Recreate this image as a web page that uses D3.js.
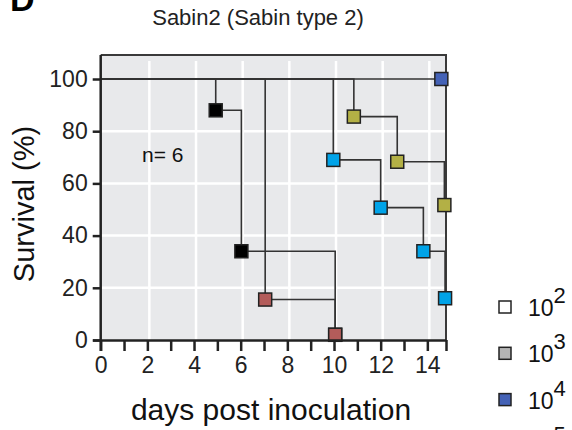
<!DOCTYPE html>
<html>
<head>
<meta charset="utf-8">
<script src="https://cdn.jsdelivr.net/npm/d3@7"></script>
<style>
  body { margin: 0; background: #fff; }
  svg { display: block; font-family: Arial, "Liberation Sans", sans-serif; }
</style>
</head>
<body>
<svg id="chart"></svg>
<script>
// survival steps: [day, survival %] after each drop
const blackSteps = [[4.93, 88], [6.03, 34], [10.05, 2]]
const brownSteps = [[7.05, 15.5], [10.05, 2]]
const cyanSteps  = [[9.97, 69], [12.0, 50.7], [13.83, 34], [14.76, 16]]
const oliveSteps = [[10.85, 85.6], [12.71, 68.3], [14.73, 51.7]]
const blueSteps  = [[14.6, 100]]

const seriesColors = ["#000000", "#b35c5a", "#00a3e8", "#b3b045", "#4462b6"]
const allSteps = [blackSteps, brownSteps, cyanSteps, oliveSteps, blueSteps]

const xTicks = [0, 1, 2, 3, 4, 5, 6, 7, 8, 9, 10, 11, 12, 13, 14, 14.8]
const xLabels = [0, 2, 4, 6, 8, 10, 12, 14]
const yTicks = [0, 20, 40, 60, 80, 100]
const gridX = [2, 4, 6, 8, 10, 12, 14]
const gridY = [20, 40, 60, 80]

const legendExp = ["2", "3", "4", "5"]
const legendColors = ["#ffffff", "#b5b5b5", "#4462b6", "#b35c5a"]

const W = 572, H = 430
const svg = d3.select("#chart").attr("width", W).attr("height", H)

const x = d3.scaleLinear().domain([0, 14.8]).range([100.7, 446])
const y = d3.scaleLinear().domain([0, 100]).range([340, 79])
const panelTop = 55

// panel background
svg.append("rect")
  .attr("x", x(0)).attr("y", panelTop)
  .attr("width", x(14.8) - x(0)).attr("height", y(0) - panelTop)
  .attr("fill", "#e8e9eb")

// white grid
svg.append("g").selectAll("line").data(gridX).enter().append("line")
  .attr("x1", d => x(d) + 2).attr("x2", d => x(d) + 2)
  .attr("y1", panelTop + 6).attr("y2", y(0))
  .attr("stroke", "#fff").attr("stroke-width", 2.5)
svg.append("g").selectAll("line").data(gridY).enter().append("line")
  .attr("x1", x(0)).attr("x2", x(14.8))
  .attr("y1", d => y(d)).attr("y2", d => y(d))
  .attr("stroke", "#fff").attr("stroke-width", 2.5)

// top + right border
svg.append("path")
  .attr("d", `M${x(0)},${panelTop}H${x(14.8)}V${y(0)}`)
  .attr("fill", "none").attr("stroke", "#3a3a3a").attr("stroke-width", 2)

// step curves
const stepPath = steps => {
  let p = `M${x(0)},${y(100)}`
  steps.forEach(s => { p += `H${x(s[0])}V${y(s[1])}` })
  return p
}
allSteps.forEach((steps, i) => {
  svg.append("path")
    .attr("d", stepPath(steps))
    .attr("fill", "none").attr("stroke", "#333").attr("stroke-width", 1.6)
})
allSteps.forEach((steps, i) => {
  svg.append("g").selectAll("rect").data(steps).enter().append("rect")
    .attr("x", d => x(d[0]) - 6.5).attr("y", d => y(d[1]) - 6.5)
    .attr("width", 13).attr("height", 13)
    .attr("fill", seriesColors[i])
    .attr("stroke", "#222").attr("stroke-width", 1.5)
})

// axes
const xAxis = svg.append("g")
  .attr("transform", `translate(0,${y(0)})`)
  .call(d3.axisBottom(x).tickValues(xTicks).tickSize(11).tickSizeOuter(0).tickPadding(6)
    .tickFormat(d => xLabels.includes(d) ? d : ""))
xAxis.select(".domain").attr("d", `M93,0.5H${x(14.8)}`)
const yAxis = svg.append("g")
  .attr("transform", `translate(${x(0)},0)`)
  .call(d3.axisLeft(y).tickValues(yTicks).tickSize(8).tickSizeOuter(0).tickPadding(5))
yAxis.select(".domain").attr("d", `M0,${panelTop}V${y(0) + 11}`)
svg.selectAll(".domain").attr("stroke", "#222").attr("stroke-width", 2.5)
svg.selectAll(".tick line").attr("stroke", "#222").attr("stroke-width", 2.5)
svg.selectAll(".tick text").attr("font-size", 23).attr("fill", "#222")
  .attr("font-family", "Arial, 'Liberation Sans', sans-serif")

// texts
svg.append("text").attr("x", 10).attr("y", 11)
  .attr("font-size", 34).attr("font-weight", "bold").text("D")
svg.append("text").attr("x", 258).attr("y", 25).attr("text-anchor", "middle")
  .attr("font-size", 22).attr("fill", "#222").text("Sabin2 (Sabin type 2)")
svg.append("text").attr("x", 142).attr("y", 162)
  .attr("font-size", 21).attr("fill", "#111").text("n= 6")
svg.append("text").attr("x", 271).attr("y", 420).attr("text-anchor", "middle")
  .attr("font-size", 30).attr("fill", "#111").text("days post inoculation")
svg.append("text")
  .attr("transform", "translate(34,204) rotate(-90)")
  .attr("text-anchor", "middle")
  .attr("font-size", 29).attr("fill", "#111").text("Survival (%)")

// legend
const leg = svg.append("g").selectAll("g").data(legendExp).enter().append("g")
  .attr("transform", (d, i) => `translate(505,${307 + i * 46.3})`)
leg.append("rect")
  .attr("x", -6).attr("y", -6).attr("width", 12).attr("height", 12)
  .attr("fill", (d, i) => legendColors[i]).attr("stroke", "#222").attr("stroke-width", 1.5)
const lt = leg.append("text").attr("x", 23).attr("y", 9).attr("font-size", 23).attr("fill", "#111")
lt.append("tspan").text("10")
lt.append("tspan").attr("dy", -13).attr("font-size", 22).text(d => d)
</script>
</body>
</html>
